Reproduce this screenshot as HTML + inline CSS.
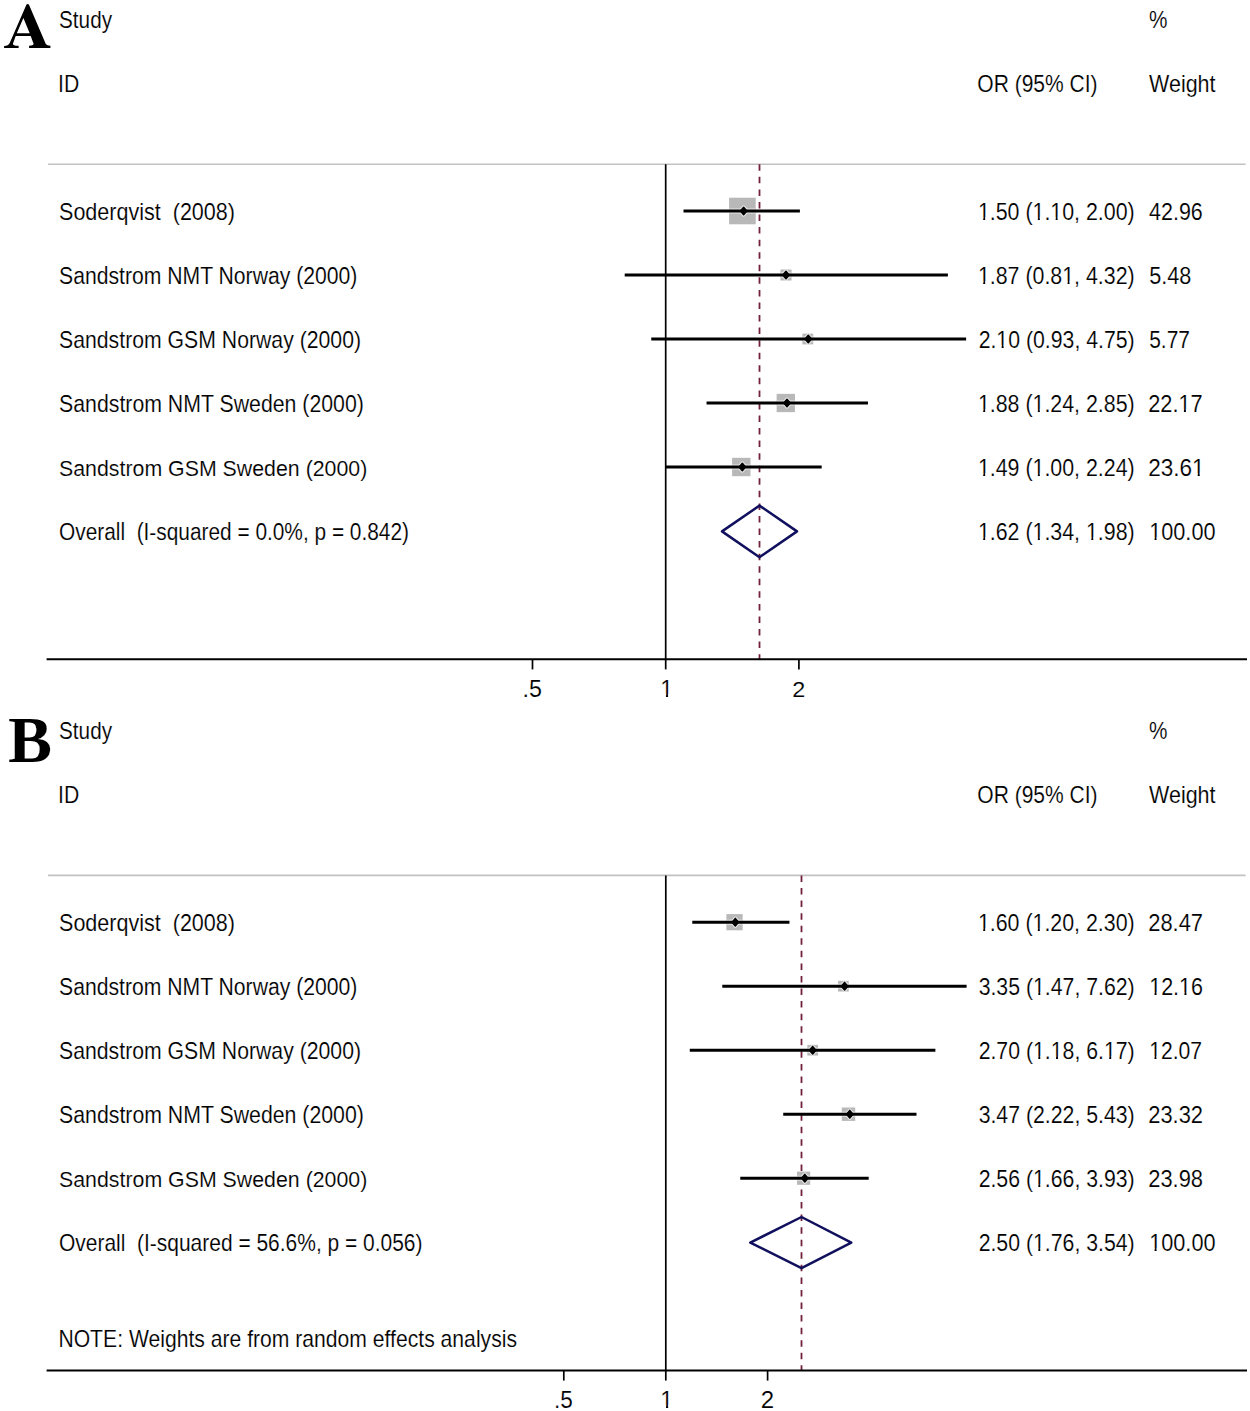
<!DOCTYPE html>
<html><head><meta charset="utf-8"><style>
html,body{margin:0;padding:0;background:#fff;}
svg{display:block;}
text{font-family:"Liberation Sans",sans-serif;fill:#000;white-space:pre;stroke:#fff;stroke-width:0.15px;paint-order:fill stroke;}
text.L{font-family:"Liberation Serif",serif;font-weight:bold;}
</style></head><body>
<svg width="1250" height="1411" viewBox="0 0 1250 1411">
<rect width="1250" height="1411" fill="#fff"/>
<path fill-rule="evenodd" fill="#000" d="M26.5,4.6 L27.7,3.9 L28.9,4.4 L45.8,44.0 Q46.9,45.5 50.4,45.7 L50.4,48.0 L29.1,48.0 L29.1,45.8 Q33.2,45.6 33.6,44.0 Q33.6,43.6 33.4,43.2 L30.7,35.9 L15.7,35.9 L13.0,43.4 Q12.4,45.6 18.6,45.8 L18.6,48.0 L4.1,48.0 L4.1,46.0 Q8.4,45.6 9.6,43.2 Z M23.4,18.0 L29.7,33.2 L16.8,33.2 Z"/>
<g transform="translate(59.06,27.50) scale(0.9003,1)"><text font-size="23.0">Study</text></g>
<g transform="translate(1149.06,27.50) scale(0.9019,1)"><text font-size="23.0">%</text></g>
<g transform="translate(58.05,91.50) scale(0.9202,1)"><text font-size="23.0">ID</text></g>
<g transform="translate(977.35,91.50) scale(0.9138,1)"><text font-size="23.0">OR (95% CI)</text></g>
<g transform="translate(1149.05,91.50) scale(0.9341,1)"><text font-size="23.0">Weight</text></g>
<line x1="48.00" y1="164.20" x2="1245.60" y2="164.20" stroke="#c2c2c2" stroke-width="1.6" />
<line x1="665.70" y1="164.20" x2="665.70" y2="659.20" stroke="#000" stroke-width="1.7" />
<line x1="759.50" y1="164.30" x2="759.50" y2="659.20" stroke="#72213a" stroke-width="1.8" stroke-dasharray="6.5 6.06"/>
<line x1="46.60" y1="659.20" x2="1247.00" y2="659.20" stroke="#000" stroke-width="2.0" />
<line x1="532.50" y1="659.20" x2="532.50" y2="669.40" stroke="#000" stroke-width="1.7" />
<line x1="665.70" y1="659.20" x2="665.70" y2="669.40" stroke="#000" stroke-width="1.7" />
<line x1="798.90" y1="659.20" x2="798.90" y2="669.40" stroke="#000" stroke-width="1.7" />
<rect x="729.10" y="197.70" width="26.6" height="26.6" fill="#b8b8b8"/>
<line x1="729.10" y1="211.00" x2="755.70" y2="211.00" stroke="#e6e6e6" stroke-width="5.0" />
<path d="M740.42,211.00 L743.62,207.20 L746.82,211.00 L743.62,214.80Z" fill="#e6e6e6" stroke="#e6e6e6" stroke-width="3.6" stroke-linejoin="round"/>
<line x1="683.52" y1="211.00" x2="799.90" y2="211.00" stroke="#000" stroke-width="3.0" />
<path d="M740.42,211.00 L743.62,207.20 L746.82,211.00 L743.62,214.80Z" fill="#000" stroke="#000" stroke-width="1.5" stroke-linejoin="round"/>
<g transform="translate(59.02,219.50) scale(0.9371,1)"><text font-size="23.0">Soderqvist  (2008)</text></g>
<g transform="translate(977.88,219.50) scale(0.9295,1)"><text font-size="23.0">1.50 (1.10, 2.00)</text><rect x="0.65" y="-2.27" width="5.08" height="3.07" fill="#fff"/><rect x="7.87" y="-2.27" width="4.95" height="3.07" fill="#fff"/><rect x="59.42" y="-2.27" width="5.08" height="3.07" fill="#fff"/><rect x="66.64" y="-2.27" width="4.95" height="3.07" fill="#fff"/><rect x="78.59" y="-2.27" width="5.08" height="3.07" fill="#fff"/><rect x="85.81" y="-2.27" width="4.95" height="3.07" fill="#fff"/></g>
<g transform="translate(1149.05,219.50) scale(0.9347,1)"><text font-size="23.0">42.96</text></g>
<rect x="780.50" y="269.50" width="11" height="11" fill="#b8b8b8"/>
<line x1="780.50" y1="275.00" x2="791.50" y2="275.00" stroke="#e6e6e6" stroke-width="5.0" />
<path d="M782.78,275.00 L785.98,271.20 L789.18,275.00 L785.98,278.80Z" fill="#e6e6e6" stroke="#e6e6e6" stroke-width="3.6" stroke-linejoin="round"/>
<line x1="624.71" y1="275.00" x2="947.89" y2="275.00" stroke="#000" stroke-width="3.0" />
<path d="M782.78,275.00 L785.98,271.20 L789.18,275.00 L785.98,278.80Z" fill="#000" stroke="#000" stroke-width="1.5" stroke-linejoin="round"/>
<g transform="translate(59.04,283.50) scale(0.9204,1)"><text font-size="23.0">Sandstrom NMT Norway (2000)</text></g>
<g transform="translate(977.88,283.50) scale(0.9295,1)"><text font-size="23.0">1.87 (0.81, 4.32)</text><rect x="0.65" y="-2.27" width="5.08" height="3.07" fill="#fff"/><rect x="7.87" y="-2.27" width="4.95" height="3.07" fill="#fff"/><rect x="91.38" y="-2.27" width="5.08" height="3.07" fill="#fff"/><rect x="98.59" y="-2.27" width="4.95" height="3.07" fill="#fff"/></g>
<g transform="translate(1149.13,283.50) scale(0.9418,1)"><text font-size="23.0">5.48</text></g>
<rect x="802.40" y="333.60" width="10.8" height="10.8" fill="#b8b8b8"/>
<line x1="802.40" y1="339.00" x2="813.20" y2="339.00" stroke="#e6e6e6" stroke-width="5.0" />
<path d="M805.08,339.00 L808.28,335.20 L811.48,339.00 L808.28,342.80Z" fill="#e6e6e6" stroke="#e6e6e6" stroke-width="3.6" stroke-linejoin="round"/>
<line x1="651.25" y1="339.00" x2="966.12" y2="339.00" stroke="#000" stroke-width="3.0" />
<path d="M805.08,339.00 L808.28,335.20 L811.48,339.00 L808.28,342.80Z" fill="#000" stroke="#000" stroke-width="1.5" stroke-linejoin="round"/>
<g transform="translate(59.04,347.50) scale(0.9235,1)"><text font-size="23.0">Sandstrom GSM Norway (2000)</text></g>
<g transform="translate(978.63,347.50) scale(0.9252,1)"><text font-size="23.0">2.10 (0.93, 4.75)</text><rect x="19.81" y="-2.27" width="5.08" height="3.07" fill="#fff"/><rect x="27.02" y="-2.27" width="4.95" height="3.07" fill="#fff"/></g>
<g transform="translate(1149.16,347.50) scale(0.9127,1)"><text font-size="23.0">5.77</text></g>
<rect x="776.65" y="393.85" width="18.3" height="18.3" fill="#b8b8b8"/>
<line x1="776.65" y1="403.00" x2="794.95" y2="403.00" stroke="#e6e6e6" stroke-width="5.0" />
<path d="M783.81,403.00 L787.01,399.20 L790.21,403.00 L787.01,406.80Z" fill="#e6e6e6" stroke="#e6e6e6" stroke-width="3.6" stroke-linejoin="round"/>
<line x1="706.54" y1="403.00" x2="867.96" y2="403.00" stroke="#000" stroke-width="3.0" />
<path d="M783.81,403.00 L787.01,399.20 L790.21,403.00 L787.01,406.80Z" fill="#000" stroke="#000" stroke-width="1.5" stroke-linejoin="round"/>
<g transform="translate(59.03,411.50) scale(0.9257,1)"><text font-size="23.0">Sandstrom NMT Sweden (2000)</text></g>
<g transform="translate(977.88,411.50) scale(0.9295,1)"><text font-size="23.0">1.88 (1.24, 2.85)</text><rect x="0.65" y="-2.27" width="5.08" height="3.07" fill="#fff"/><rect x="7.87" y="-2.27" width="4.95" height="3.07" fill="#fff"/><rect x="59.42" y="-2.27" width="5.08" height="3.07" fill="#fff"/><rect x="66.64" y="-2.27" width="4.95" height="3.07" fill="#fff"/></g>
<g transform="translate(1148.21,411.50) scale(0.9475,1)"><text font-size="23.0">22.17</text><rect x="32.60" y="-2.27" width="5.08" height="3.07" fill="#fff"/><rect x="39.82" y="-2.27" width="4.95" height="3.07" fill="#fff"/></g>
<rect x="732.10" y="457.80" width="18.4" height="18.4" fill="#b8b8b8"/>
<line x1="732.10" y1="467.00" x2="750.50" y2="467.00" stroke="#e6e6e6" stroke-width="5.0" />
<path d="M739.13,467.00 L742.33,463.20 L745.53,467.00 L742.33,470.80Z" fill="#e6e6e6" stroke="#e6e6e6" stroke-width="3.6" stroke-linejoin="round"/>
<line x1="665.20" y1="467.00" x2="821.68" y2="467.00" stroke="#000" stroke-width="3.0" />
<path d="M739.13,467.00 L742.33,463.20 L745.53,467.00 L742.33,470.80Z" fill="#000" stroke="#000" stroke-width="1.5" stroke-linejoin="round"/>
<g transform="translate(59.03,475.50) scale(0.9282,1)"><text font-size="23.0">Sandstrom GSM Sweden (2000)</text></g>
<g transform="translate(977.88,475.50) scale(0.9295,1)"><text font-size="23.0">1.49 (1.00, 2.24)</text><rect x="0.65" y="-2.27" width="5.08" height="3.07" fill="#fff"/><rect x="7.87" y="-2.27" width="4.95" height="3.07" fill="#fff"/><rect x="59.42" y="-2.27" width="5.08" height="3.07" fill="#fff"/><rect x="66.64" y="-2.27" width="4.95" height="3.07" fill="#fff"/></g>
<g transform="translate(1148.18,475.50) scale(0.9809,1)"><text font-size="23.0">23.61</text><rect x="45.39" y="-2.27" width="5.08" height="3.07" fill="#fff"/><rect x="52.60" y="-2.27" width="4.95" height="3.07" fill="#fff"/></g>
<path d="M722.0,531.40 L759.5,505.60 L797.0,531.40 L759.5,557.20Z" fill="none" stroke="#10105e" stroke-width="2.5" stroke-linejoin="round"/>
<g transform="translate(59.01,539.50) scale(0.9073,1)"><text font-size="23.0">Overall  (I-squared = 0.0%, p = 0.842)</text></g>
<g transform="translate(977.88,539.50) scale(0.9295,1)"><text font-size="23.0">1.62 (1.34, 1.98)</text><rect x="0.65" y="-2.27" width="5.08" height="3.07" fill="#fff"/><rect x="7.87" y="-2.27" width="4.95" height="3.07" fill="#fff"/><rect x="59.42" y="-2.27" width="5.08" height="3.07" fill="#fff"/><rect x="66.64" y="-2.27" width="4.95" height="3.07" fill="#fff"/><rect x="116.94" y="-2.27" width="5.08" height="3.07" fill="#fff"/><rect x="124.15" y="-2.27" width="4.95" height="3.07" fill="#fff"/></g>
<g transform="translate(1149.14,539.50) scale(0.9446,1)"><text font-size="23.0">100.00</text><rect x="0.65" y="-2.27" width="5.08" height="3.07" fill="#fff"/><rect x="7.87" y="-2.27" width="4.95" height="3.07" fill="#fff"/></g>
<g transform="translate(522.52,696.50) scale(1.0112,1)"><text font-size="23.0">.5</text></g>
<g transform="translate(660.20,696.50) scale(1.0000,1)"><text font-size="23.0">1</text><rect x="0.65" y="-2.27" width="5.08" height="3.07" fill="#fff"/><rect x="7.87" y="-2.27" width="4.95" height="3.07" fill="#fff"/></g>
<g transform="translate(792.13,696.50) scale(1.0188,1)"><text font-size="23.0">2</text></g>
<text class="L" x="8.1" y="761.6" font-size="66">B</text>
<g transform="translate(59.06,738.70) scale(0.9003,1)"><text font-size="23.0">Study</text></g>
<g transform="translate(1149.06,738.70) scale(0.9019,1)"><text font-size="23.0">%</text></g>
<g transform="translate(58.05,802.70) scale(0.9202,1)"><text font-size="23.0">ID</text></g>
<g transform="translate(977.35,802.70) scale(0.9138,1)"><text font-size="23.0">OR (95% CI)</text></g>
<g transform="translate(1149.05,802.70) scale(0.9341,1)"><text font-size="23.0">Weight</text></g>
<line x1="48.00" y1="875.40" x2="1245.60" y2="875.40" stroke="#c2c2c2" stroke-width="1.6" />
<line x1="665.80" y1="875.40" x2="665.80" y2="1370.40" stroke="#000" stroke-width="1.7" />
<line x1="801.50" y1="875.50" x2="801.50" y2="1370.40" stroke="#72213a" stroke-width="1.8" stroke-dasharray="6.5 6.06"/>
<line x1="46.60" y1="1370.40" x2="1247.00" y2="1370.40" stroke="#000" stroke-width="2.0" />
<line x1="563.80" y1="1370.40" x2="563.80" y2="1380.60" stroke="#000" stroke-width="1.7" />
<line x1="665.80" y1="1370.40" x2="665.80" y2="1380.60" stroke="#000" stroke-width="1.7" />
<line x1="767.60" y1="1370.40" x2="767.60" y2="1380.60" stroke="#000" stroke-width="1.7" />
<rect x="726.40" y="914.10" width="16.2" height="16.2" fill="#b8b8b8"/>
<line x1="726.40" y1="922.20" x2="742.60" y2="922.20" stroke="#e6e6e6" stroke-width="5.0" />
<path d="M732.10,922.20 L735.30,918.40 L738.50,922.20 L735.30,926.00Z" fill="#e6e6e6" stroke="#e6e6e6" stroke-width="3.6" stroke-linejoin="round"/>
<line x1="692.26" y1="922.20" x2="789.47" y2="922.20" stroke="#000" stroke-width="3.0" />
<path d="M732.10,922.20 L735.30,918.40 L738.50,922.20 L735.30,926.00Z" fill="#000" stroke="#000" stroke-width="1.5" stroke-linejoin="round"/>
<g transform="translate(59.02,930.70) scale(0.9371,1)"><text font-size="23.0">Soderqvist  (2008)</text></g>
<g transform="translate(977.88,930.70) scale(0.9295,1)"><text font-size="23.0">1.60 (1.20, 2.30)</text><rect x="0.65" y="-2.27" width="5.08" height="3.07" fill="#fff"/><rect x="7.87" y="-2.27" width="4.95" height="3.07" fill="#fff"/><rect x="59.42" y="-2.27" width="5.08" height="3.07" fill="#fff"/><rect x="66.64" y="-2.27" width="4.95" height="3.07" fill="#fff"/></g>
<g transform="translate(1148.20,930.70) scale(0.9529,1)"><text font-size="23.0">28.47</text></g>
<rect x="838.05" y="980.85" width="10.7" height="10.7" fill="#b8b8b8"/>
<line x1="838.05" y1="986.20" x2="848.75" y2="986.20" stroke="#e6e6e6" stroke-width="5.0" />
<path d="M841.38,986.20 L844.58,982.40 L847.78,986.20 L844.58,990.00Z" fill="#e6e6e6" stroke="#e6e6e6" stroke-width="3.6" stroke-linejoin="round"/>
<line x1="722.27" y1="986.20" x2="966.60" y2="986.20" stroke="#000" stroke-width="3.0" />
<path d="M841.38,986.20 L844.58,982.40 L847.78,986.20 L844.58,990.00Z" fill="#000" stroke="#000" stroke-width="1.5" stroke-linejoin="round"/>
<g transform="translate(59.04,994.70) scale(0.9204,1)"><text font-size="23.0">Sandstrom NMT Norway (2000)</text></g>
<g transform="translate(978.64,994.70) scale(0.9252,1)"><text font-size="23.0">3.35 (1.47, 7.62)</text><rect x="59.42" y="-2.27" width="5.08" height="3.07" fill="#fff"/><rect x="66.64" y="-2.27" width="4.95" height="3.07" fill="#fff"/></g>
<g transform="translate(1149.16,994.70) scale(0.9370,1)"><text font-size="23.0">12.16</text><rect x="0.65" y="-2.27" width="5.08" height="3.07" fill="#fff"/><rect x="7.87" y="-2.27" width="4.95" height="3.07" fill="#fff"/><rect x="32.60" y="-2.27" width="5.08" height="3.07" fill="#fff"/><rect x="39.82" y="-2.27" width="4.95" height="3.07" fill="#fff"/></g>
<rect x="807.33" y="1044.85" width="10.7" height="10.7" fill="#b8b8b8"/>
<line x1="807.33" y1="1050.20" x2="818.03" y2="1050.20" stroke="#e6e6e6" stroke-width="5.0" />
<path d="M809.48,1050.20 L812.68,1046.40 L815.88,1050.20 L812.68,1054.00Z" fill="#e6e6e6" stroke="#e6e6e6" stroke-width="3.6" stroke-linejoin="round"/>
<line x1="689.78" y1="1050.20" x2="935.39" y2="1050.20" stroke="#000" stroke-width="3.0" />
<path d="M809.48,1050.20 L812.68,1046.40 L815.88,1050.20 L812.68,1054.00Z" fill="#000" stroke="#000" stroke-width="1.5" stroke-linejoin="round"/>
<g transform="translate(59.04,1058.70) scale(0.9235,1)"><text font-size="23.0">Sandstrom GSM Norway (2000)</text></g>
<g transform="translate(978.63,1058.70) scale(0.9252,1)"><text font-size="23.0">2.70 (1.18, 6.17)</text><rect x="59.42" y="-2.27" width="5.08" height="3.07" fill="#fff"/><rect x="66.64" y="-2.27" width="4.95" height="3.07" fill="#fff"/><rect x="78.59" y="-2.27" width="5.08" height="3.07" fill="#fff"/><rect x="85.81" y="-2.27" width="4.95" height="3.07" fill="#fff"/><rect x="136.11" y="-2.27" width="5.08" height="3.07" fill="#fff"/><rect x="143.32" y="-2.27" width="4.95" height="3.07" fill="#fff"/></g>
<g transform="translate(1149.20,1058.70) scale(0.9185,1)"><text font-size="23.0">12.07</text><rect x="0.65" y="-2.27" width="5.08" height="3.07" fill="#fff"/><rect x="7.87" y="-2.27" width="4.95" height="3.07" fill="#fff"/></g>
<rect x="841.80" y="1107.50" width="13.4" height="13.4" fill="#b8b8b8"/>
<line x1="841.80" y1="1114.20" x2="855.20" y2="1114.20" stroke="#e6e6e6" stroke-width="5.0" />
<path d="M846.58,1114.20 L849.78,1110.40 L852.98,1114.20 L849.78,1118.00Z" fill="#e6e6e6" stroke="#e6e6e6" stroke-width="3.6" stroke-linejoin="round"/>
<line x1="783.23" y1="1114.20" x2="916.50" y2="1114.20" stroke="#000" stroke-width="3.0" />
<path d="M846.58,1114.20 L849.78,1110.40 L852.98,1114.20 L849.78,1118.00Z" fill="#000" stroke="#000" stroke-width="1.5" stroke-linejoin="round"/>
<g transform="translate(59.03,1122.70) scale(0.9257,1)"><text font-size="23.0">Sandstrom NMT Sweden (2000)</text></g>
<g transform="translate(978.64,1122.70) scale(0.9252,1)"><text font-size="23.0">3.47 (2.22, 5.43)</text></g>
<g transform="translate(1148.20,1122.70) scale(0.9529,1)"><text font-size="23.0">23.32</text></g>
<rect x="797.00" y="1171.60" width="13.2" height="13.2" fill="#b8b8b8"/>
<line x1="797.00" y1="1178.20" x2="810.20" y2="1178.20" stroke="#e6e6e6" stroke-width="5.0" />
<path d="M801.60,1178.20 L804.80,1174.40 L808.00,1178.20 L804.80,1182.00Z" fill="#e6e6e6" stroke="#e6e6e6" stroke-width="3.6" stroke-linejoin="round"/>
<line x1="740.25" y1="1178.20" x2="868.69" y2="1178.20" stroke="#000" stroke-width="3.0" />
<path d="M801.60,1178.20 L804.80,1174.40 L808.00,1178.20 L804.80,1182.00Z" fill="#000" stroke="#000" stroke-width="1.5" stroke-linejoin="round"/>
<g transform="translate(59.03,1186.70) scale(0.9282,1)"><text font-size="23.0">Sandstrom GSM Sweden (2000)</text></g>
<g transform="translate(978.63,1186.70) scale(0.9252,1)"><text font-size="23.0">2.56 (1.66, 3.93)</text><rect x="59.42" y="-2.27" width="5.08" height="3.07" fill="#fff"/><rect x="66.64" y="-2.27" width="4.95" height="3.07" fill="#fff"/></g>
<g transform="translate(1148.20,1186.70) scale(0.9529,1)"><text font-size="23.0">23.98</text></g>
<path d="M750.3,1242.60 L801.5,1217.00 L851.3,1242.60 L801.5,1268.20Z" fill="none" stroke="#10105e" stroke-width="2.5" stroke-linejoin="round"/>
<g transform="translate(59.01,1250.70) scale(0.9115,1)"><text font-size="23.0">Overall  (I-squared = 56.6%, p = 0.056)</text></g>
<g transform="translate(978.63,1250.70) scale(0.9252,1)"><text font-size="23.0">2.50 (1.76, 3.54)</text><rect x="59.42" y="-2.27" width="5.08" height="3.07" fill="#fff"/><rect x="66.64" y="-2.27" width="4.95" height="3.07" fill="#fff"/></g>
<g transform="translate(1149.14,1250.70) scale(0.9446,1)"><text font-size="23.0">100.00</text><rect x="0.65" y="-2.27" width="5.08" height="3.07" fill="#fff"/><rect x="7.87" y="-2.27" width="4.95" height="3.07" fill="#fff"/></g>
<g transform="translate(58.41,1346.90) scale(0.9199,1)"><text font-size="23.0">NOTE: Weights are from random effects analysis</text></g>
<g transform="translate(553.94,1407.70) scale(0.9802,1)"><text font-size="23.0">.5</text></g>
<g transform="translate(660.30,1407.70) scale(1.0000,1)"><text font-size="23.0">1</text><rect x="0.65" y="-2.27" width="5.08" height="3.07" fill="#fff"/><rect x="7.87" y="-2.27" width="4.95" height="3.07" fill="#fff"/></g>
<g transform="translate(760.75,1407.70) scale(1.0470,1)"><text font-size="23.0">2</text></g>
</svg>
</body></html>
